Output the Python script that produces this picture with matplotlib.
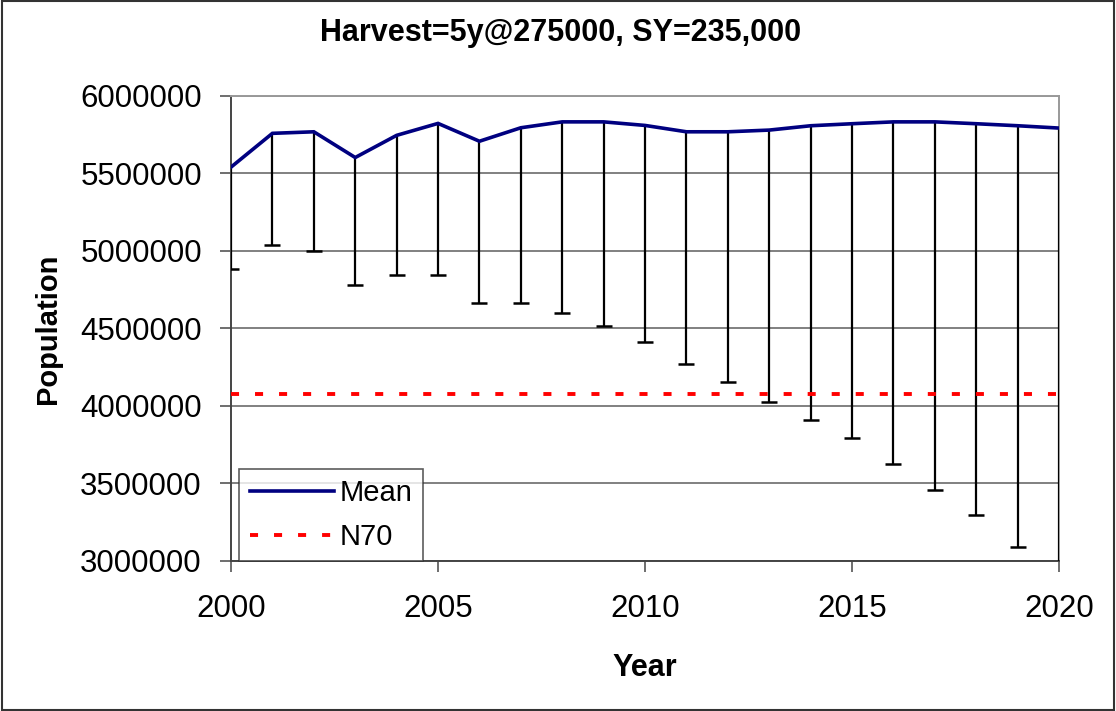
import matplotlib
matplotlib.use("Agg")
import matplotlib.pyplot as plt
from matplotlib.patches import Rectangle
import numpy as np

plt.rcParams['font.family'] = ['Liberation Sans', 'DejaVu Sans']
plt.rcParams['lines.scale_dashes'] = False

years = list(range(2000, 2021))
mean_pop = [5541000, 5759000, 5769000, 5603000, 5746000, 5823000, 5708000,
            5795000, 5833000, 5833000, 5810000, 5769000, 5769000, 5780000,
            5808000, 5821000, 5833000, 5833000, 5821000, 5808000, 5793000]
lower_pop = [4885000, 5038000, 5000000, 4782000, 4846000, 4846000, 4667000,
             4667000, 4603000, 4513000, 4413000, 4271000, 4155000, 4026000,
             3910000, 3794000, 3626000, 3461000, 3294000, 3087000, 2900000]
n70 = 4078000

title = "Harvest=5y@275000, SY=235,000"
y_ticks = [3000000, 3500000, 4000000, 4500000, 5000000, 5500000, 6000000]
x_ticks = [2000, 2005, 2010, 2015, 2020]

fig = plt.figure(figsize=(11.16, 7.11), dpi=100)
ax = fig.add_axes([0.207, 0.211, 0.742, 0.654])

# figure frame
fig.patches.append(Rectangle((0.002, 0.002), 0.996, 0.996, transform=fig.transFigure,
                             fill=False, edgecolor='#333333', linewidth=1.5))

ax.set_xlim(2000, 2020)
ax.set_ylim(3000000, 6000000)

# horizontal gridlines
for yv in y_ticks:
    ax.axhline(yv, color='#808080', linewidth=1.4, zorder=1)

# one-sided (lower) error bars
mean_arr = np.array(mean_pop)
low_arr = np.array(lower_pop)
ax.vlines(years, low_arr, mean_arr, colors='black', linewidth=1.6, zorder=3)
ax.plot(years, low_arr, linestyle='none', marker='_', markersize=11,
        markeredgewidth=1.8, color='black', zorder=3)

ax.plot(years, mean_pop, color='#000080', linewidth=2.6, label='Mean', zorder=4,
        solid_joinstyle='miter')
ax.plot([2000, 2020], [n70, n70], color='#ff0000', linewidth=2.8,
        dashes=(5.8, 11.5), label='N70', zorder=4)

ax.set_xticks(x_ticks)
ax.set_yticks(y_ticks)
ax.set_xticklabels([str(x) for x in x_ticks])
ax.set_yticklabels([str(y) for y in y_ticks])
ax.tick_params(axis='both', direction='out', length=8, width=1.2, color='#555555',
               labelsize=22.5)
ax.tick_params(axis='y', pad=13)
ax.tick_params(axis='x', pad=16)

for side in ['top', 'right']:
    ax.spines[side].set_color('#999999')
    ax.spines[side].set_linewidth(1.4)
for side in ['left', 'bottom']:
    ax.spines[side].set_color('#444444')
    ax.spines[side].set_linewidth(1.4)

ax.set_xlabel('Year', fontsize=22, fontweight='bold', labelpad=21)
ax.set_ylabel('Population', fontsize=21, fontweight='bold', labelpad=13)
fig.text(0.502, 0.954, title, ha='center', va='center', fontsize=22, fontweight='bold')

leg = ax.legend(loc='lower left', bbox_to_anchor=(0.01, 0.0), fontsize=21,
                frameon=True, fancybox=False, borderpad=0.35, labelspacing=0.55,
                handlelength=2.9, handletextpad=0.2, borderaxespad=0.0)
leg.get_frame().set_edgecolor('#333333')
leg.get_frame().set_linewidth(1.2)
leg.set_zorder(6)

fig.savefig('out.png', dpi=100)
